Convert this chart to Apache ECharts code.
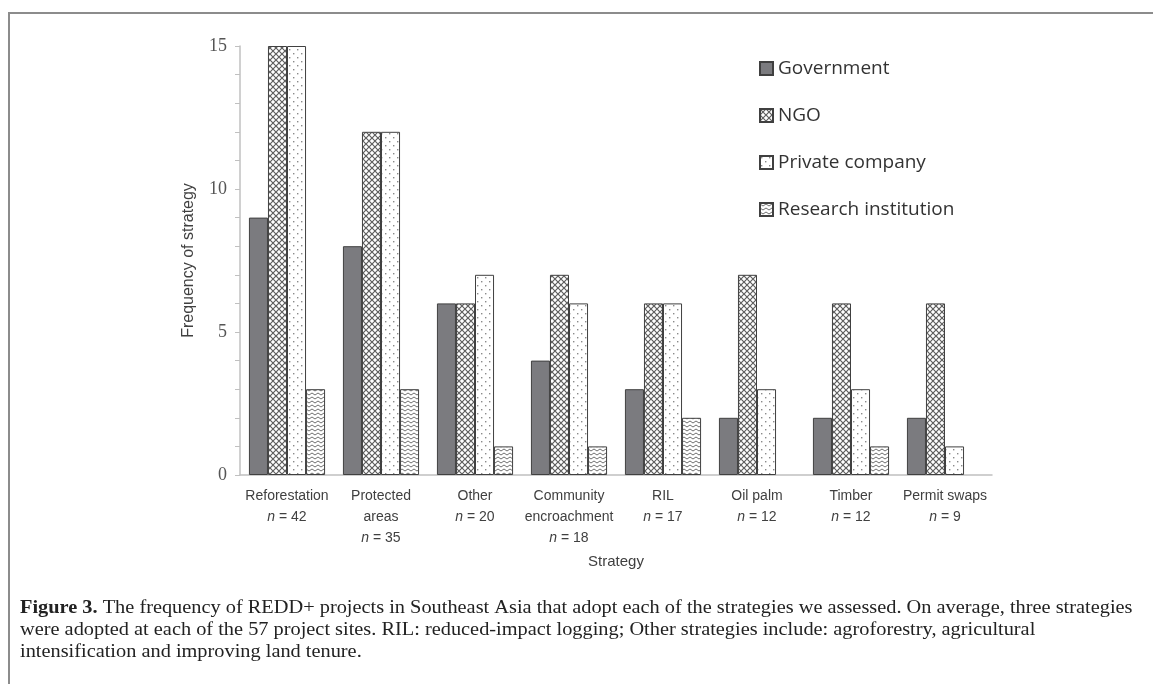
<!DOCTYPE html>
<html>
<head>
<meta charset="utf-8">
<script src="https://cdn.jsdelivr.net/npm/echarts@6/dist/echarts.min.js"></script>
<style>
  html, body { margin: 0; padding: 0; background: #fff; }
  #chart { width: 1153px; height: 684px; }
</style>
</head>
<body>
<div id="chart"></div>
<script>
const strategies = ['Reforestation', 'Protected\nareas', 'Other', 'Community\nencroachment', 'RIL', 'Oil palm', 'Timber', 'Permit swaps'];
const nCounts = [42, 35, 20, 18, 17, 12, 12, 9];
const government = [9, 8, 6, 4, 3, 2, 2, 2];
const ngo = [15, 12, 6, 7, 6, 7, 6, 6];
const privateCompany = [15, 12, 7, 6, 6, 3, 3, 1];
const research = [3, 3, 1, 1, 2, 0, 1, 0];
const yLabels = [0, 5, 10, 15];

// pattern fills
function makeCanvas(w, h) {
  const c = document.createElement('canvas');
  c.width = w; c.height = h;
  return c;
}
function crossPattern() {
  const c = makeCanvas(6, 6), g = c.getContext('2d');
  g.fillStyle = '#fff'; g.fillRect(0, 0, 6, 6);
  g.strokeStyle = '#5e5e5e'; g.lineWidth = 1.2;
  g.beginPath();
  g.moveTo(0, 0); g.lineTo(6, 6);
  g.moveTo(6, 0); g.lineTo(0, 6);
  g.stroke();
  return c;
}
function dotPattern() {
  const c = makeCanvas(8, 8), g = c.getContext('2d');
  g.fillStyle = '#fff'; g.fillRect(0, 0, 8, 8);
  g.fillStyle = '#8a8a8a';
  g.fillRect(1, 1, 1.4, 1.4);
  g.fillRect(5, 5, 1.4, 1.4);
  return c;
}
function wavePattern() {
  const c = makeCanvas(6, 4), g = c.getContext('2d');
  g.fillStyle = '#fff'; g.fillRect(0, 0, 6, 4);
  g.strokeStyle = '#707070'; g.lineWidth = 1;
  g.beginPath();
  g.moveTo(0, 1); g.lineTo(3, 3); g.lineTo(6, 1);
  g.stroke();
  return c;
}

const chart = echarts.init(document.getElementById('chart'));

// zero counts draw no bar at all
function barSeries(name, data, color) {
  return {
    name: name,
    type: 'bar',
    data: data.map(v => v === 0 ? '-' : v),
    barGap: '0%',
    barCategoryGap: '19%',
    itemStyle: { color: color, borderColor: '#404040', borderWidth: 1 }
  };
}

const option = {
  backgroundColor: '#fff',
  animation: false,
  grid: { left: 240, right: 161, top: 46, bottom: 209 },
  legend: {
    orient: 'vertical',
    left: 754,
    top: 54,
    itemWidth: 13,
    itemHeight: 13,
    itemGap: 28,
    icon: 'rect',
    textStyle: { fontFamily: 'Open Sans', fontSize: 19, color: '#333' },
    data: ['Government', 'NGO', 'Private company', 'Research institution']
  },
  xAxis: {
    type: 'category',
    data: strategies,
    name: 'Strategy',
    nameLocation: 'middle',
    nameGap: 73,
    nameTextStyle: { fontFamily: 'Liberation Sans', fontSize: 15, color: '#404040' },
    axisLine: { lineStyle: { color: '#c0c0c0', width: 1.5 } },
    axisTick: { show: false },
    axisLabel: {
      interval: 0,
      margin: 11,
      lineHeight: 21,
      fontFamily: 'Liberation Sans',
      fontSize: 14,
      color: '#404040',
      formatter: function (v, i) {
        return v + '\n{n|n} = ' + nCounts[i];
      },
      rich: {
        n: { fontStyle: 'italic', fontFamily: 'Liberation Sans', fontSize: 14, color: '#404040', lineHeight: 21 }
      }
    }
  },
  yAxis: {
    type: 'value',
    min: 0,
    max: 15,
    interval: 1,
    name: 'Frequency of strategy',
    nameLocation: 'middle',
    nameGap: 43,
    nameTextStyle: { fontFamily: 'Liberation Sans', fontSize: 16, color: '#404040' },
    splitLine: { show: false },
    axisLine: { show: true, lineStyle: { color: '#c0c0c0', width: 1.5 } },
    axisTick: { show: true, length: 5, lineStyle: { color: '#c0c0c0' } },
    axisLabel: {
      margin: 13,
      fontFamily: 'Liberation Serif',
      fontSize: 18,
      color: '#555',
      formatter: function (v) { return yLabels.indexOf(v) >= 0 ? String(v) : ''; }
    }
  },
  series: [
    barSeries('Government', government, '#7b7b7f'),
    barSeries('NGO', ngo, { image: crossPattern(), repeat: 'repeat' }),
    barSeries('Private company', privateCompany, { image: dotPattern(), repeat: 'repeat' }),
    barSeries('Research institution', research, { image: wavePattern(), repeat: 'repeat' })
  ],
  graphic: [
    {
      type: 'polyline',
      silent: true,
      shape: { points: [[9, 684], [9, 13], [1153, 13]] },
      style: { stroke: '#8c8c8c', lineWidth: 2, fill: null }
    },
    {
      type: 'text',
      x: 20,
      y: 597,
      scaleX: 1.13,
      style: {
        text: '{b|Figure 3.} The frequency of REDD+ projects in Southeast Asia that adopt each of the strategies we assessed. On average, three strategies\nwere adopted at each of the 57 project sites. RIL: reduced-impact logging; Other strategies include: agroforestry, agricultural\nintensification and improving land tenure.',
        fontFamily: 'Liberation Serif',
        fontSize: 18,
        lineHeight: 22,
        fill: '#222',
        rich: {
          b: { fontFamily: 'Liberation Serif', fontWeight: 'bold', fontSize: 18, lineHeight: 22, fill: '#222' }
        }
      }
    }
  ]
};

chart.setOption(option);
</script>
</body>
</html>
